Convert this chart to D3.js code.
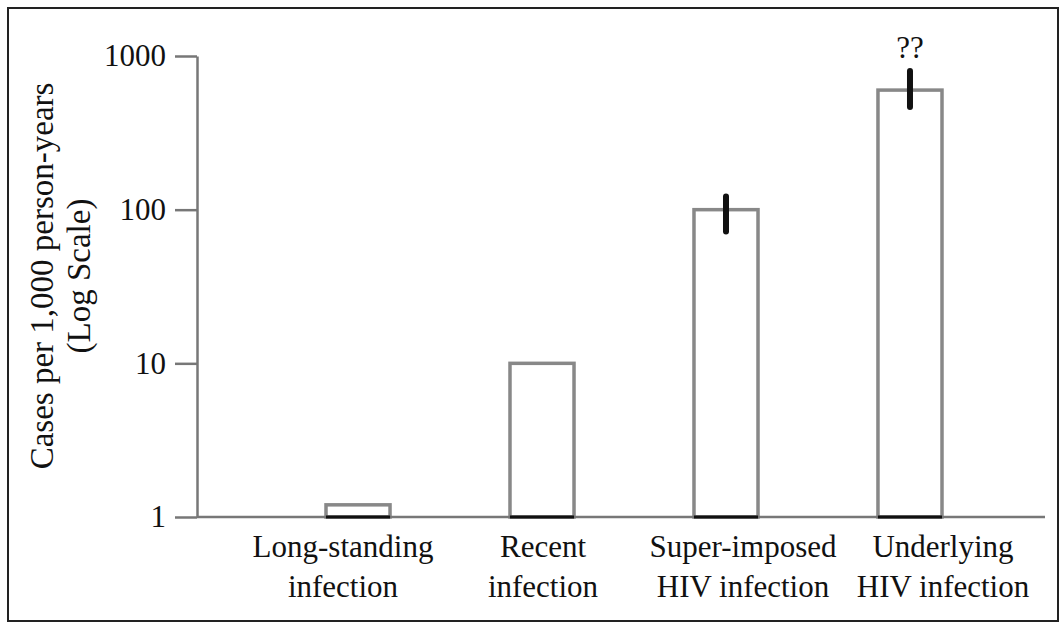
<!DOCTYPE html>
<html>
<head>
<meta charset="utf-8">
<script src="https://cdn.jsdelivr.net/npm/d3@7"></script>
<style>
  body { margin: 0; background: #fff; }
  text { font-family: "Liberation Serif", "Times New Roman", serif; fill: #111; }
</style>
</head>
<body>
<div id="chart"></div>
<script>
//chart data
var categories = ["Long-standing infection", "Recent infection", "Super-imposed HIV infection", "Underlying HIV infection"];
var labelLines = [["Long-standing", "infection"], ["Recent", "infection"], ["Super-imposed", "HIV infection"], ["Underlying", "HIV infection"]];
var values = [1.2, 10, 100, 600];
var errLow = [null, null, 72, 465];
var errHigh = [null, null, 122, 800];
var notes = ["", "", "", "??"];
var tickValues = [1, 10, 100, 1000];

//svg size
var svgWidth = 1060;
var svgHeight = 624;

var svg = d3.select("#chart").append("svg")
    .attr("width", svgWidth)
    .attr("height", svgHeight);

//outer frame
svg.append("rect")
    .attr("x", 8)
    .attr("y", 8)
    .attr("width", 1050)
    .attr("height", 613)
    .attr("fill", "none")
    .attr("stroke", "#222")
    .attr("stroke-width", 2);

//scales
var yScale = d3.scaleLog()
    .domain([1, 1000])
    .range([517, 56]);

var xScale = d3.scaleBand()
    .domain(categories)
    .range([326, 942])
    .paddingInner(0.652)
    .paddingOuter(0);

var labelScale = d3.scalePoint()
    .domain(categories)
    .range([343, 943]);

//y axis
var leftAxis = d3.axisLeft(yScale)
    .tickValues(tickValues)
    .tickFormat(d3.format("d"))
    .tickSize(22)
    .tickSizeOuter(0)
    .tickPadding(9);

var yAxis = svg.append("g")
    .attr("transform", "translate(197, 0)")
    .call(leftAxis);

yAxis.select(".domain")
    .attr("stroke", "#777")
    .attr("stroke-width", 2.5);

yAxis.selectAll(".tick line")
    .attr("stroke", "#777")
    .attr("stroke-width", 2.5);

yAxis.selectAll(".tick text")
    .attr("font-size", "31px")
    .attr("font-family", "Liberation Serif, serif")
    .attr("fill", "#111");

//bars
svg.selectAll(".bar")
    .data(values)
    .enter()
    .append("rect")
    .attr("class", "bar")
    .attr("x", (d, i) => xScale(categories[i]))
    .attr("y", d => yScale(d))
    .attr("width", xScale.bandwidth())
    .attr("height", d => yScale(1) - yScale(d))
    .attr("fill", "#fff")
    .attr("stroke", "#888")
    .attr("stroke-width", 3.5);

//baseline
svg.append("line")
    .attr("x1", 197)
    .attr("x2", 1045)
    .attr("y1", yScale(1))
    .attr("y2", yScale(1))
    .attr("stroke", "#777")
    .attr("stroke-width", 2.5);

//dark bar bottoms
svg.selectAll(".bottom")
    .data(values)
    .enter()
    .append("line")
    .attr("class", "bottom")
    .attr("x1", (d, i) => xScale(categories[i]))
    .attr("x2", (d, i) => xScale(categories[i]) + xScale.bandwidth())
    .attr("y1", yScale(1))
    .attr("y2", yScale(1))
    .attr("stroke", "#111")
    .attr("stroke-width", 3);

//error bars
var errIdx = d3.range(values.length).filter(i => errLow[i] != null);
svg.selectAll(".err")
    .data(errIdx)
    .enter()
    .append("line")
    .attr("class", "err")
    .attr("x1", i => xScale(categories[i]) + xScale.bandwidth() / 2)
    .attr("x2", i => xScale(categories[i]) + xScale.bandwidth() / 2)
    .attr("y1", i => yScale(errHigh[i]))
    .attr("y2", i => yScale(errLow[i]))
    .attr("stroke", "#111")
    .attr("stroke-width", 6)
    .attr("stroke-linecap", "round");

//"??" note
svg.selectAll(".note")
    .data(notes)
    .enter()
    .append("text")
    .attr("class", "note")
    .attr("x", (d, i) => xScale(categories[i]) + xScale.bandwidth() / 2)
    .attr("y", 58)
    .attr("text-anchor", "middle")
    .attr("font-size", "31px")
    .text(d => d);

//category labels
var catLabels = svg.selectAll(".cat")
    .data(categories)
    .enter()
    .append("text")
    .attr("class", "cat")
    .attr("text-anchor", "middle")
    .attr("font-size", "31px");

catLabels.each(function(d, i) {
    var t = d3.select(this);
    labelLines[i].forEach(function(line, j) {
        t.append("tspan")
            .attr("x", labelScale(d))
            .attr("y", 557 + j * 40)
            .text(line);
    });
});

//y title
var yTitle = svg.append("text")
    .attr("transform", "translate(0, 276) rotate(-90)")
    .attr("text-anchor", "middle")
    .attr("font-size", "33px");

yTitle.append("tspan")
    .attr("x", 0)
    .attr("y", 53)
    .text("Cases per 1,000 person-years");

yTitle.append("tspan")
    .attr("x", 0)
    .attr("y", 90)
    .text("(Log Scale)");
</script>
</body>
</html>
